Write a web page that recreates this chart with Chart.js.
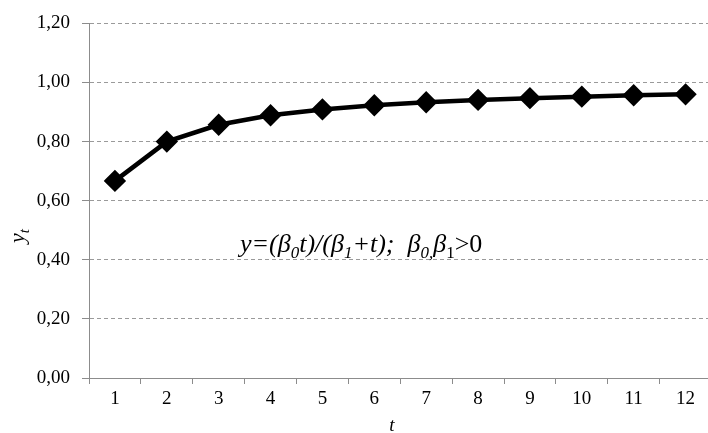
<!DOCTYPE html>
<html>
<head>
<meta charset="utf-8">
<script src="https://cdn.jsdelivr.net/npm/chart.js@4"></script>
<style>
  html, body { margin: 0; padding: 0; background: #fff; overflow: hidden; }
  #wrap { width: 724px; height: 433px; }
</style>
</head>
<body>
<div id="wrap"><canvas id="c" width="724" height="433"></canvas></div>
<script>
// Time index and fitted response values
const tLabels = ['1','2','3','4','5','6','7','8','9','10','11','12'];
const yValues = [0.667, 0.800, 0.857, 0.889, 0.909, 0.923, 0.933, 0.941, 0.947, 0.952, 0.957, 0.960];
const yTicks = [0, 0.2, 0.4, 0.6, 0.8, 1.0, 1.2];

const SERIF = '"Liberation Serif", "Times New Roman", serif';
const AXIS_GREY = '#8c8c8c';

// Axis titles and the model formula drawn as text runs with subscripts
const textPlugin = {
  id: 'formulaText',
  afterDraw(chart) {
    const ctx = chart.ctx;
    ctx.save();
    ctx.fillStyle = '#000';
    ctx.textBaseline = 'alphabetic';

    // y axis title: y with subscript t, rotated
    ctx.save();
    ctx.translate(24, 236);
    ctx.rotate(-Math.PI / 2);
    ctx.textAlign = 'left';
    ctx.font = 'italic 22px ' + SERIF;
    const yw = ctx.measureText('y').width;
    ctx.font = 'italic 15px ' + SERIF;
    const tw0 = ctx.measureText('t').width;
    const start = -(yw + tw0) / 2;
    ctx.font = 'italic 22px ' + SERIF;
    ctx.fillText('y', start, 0);
    ctx.font = 'italic 15px ' + SERIF;
    ctx.fillText('t', start + yw, 5);
    ctx.restore();

    // x axis title
    ctx.font = 'italic 19px ' + SERIF;
    ctx.textAlign = 'center';
    ctx.fillText('t', 392, 431);

    // model formula
    const runs = [
      ['y=(β', false, true],
      ['0', true, true],
      ['t)/(β', false, true],
      ['1', true, true],
      ['+t);  β', false, true],
      ['0,', true, true],
      ['β', false, true],
      ['1', true, false],
      ['>0', false, false]
    ];
    ctx.textAlign = 'left';
    let x = 240;
    const base = 252;
    for (const [txt, sub, ital] of runs) {
      const size = sub ? 17 : 26;
      ctx.font = (ital ? 'italic ' : '') + size + 'px ' + SERIF;
      ctx.fillText(txt, x, sub ? base + 6 : base);
      x += ctx.measureText(txt).width;
    }
    ctx.restore();
  }
};

new Chart(document.getElementById('c'), {
  type: 'line',
  data: {
    labels: tLabels,
    datasets: [{
      data: yValues,
      borderColor: '#000',
      backgroundColor: '#000',
      borderWidth: 4.5,
      pointStyle: 'rectRot',
      pointRadius: 8,
      pointHoverRadius: 8,
      pointBackgroundColor: '#000',
      pointBorderColor: '#000',
      tension: 0,
      fill: false
    }]
  },
  options: {
    responsive: false,
    animation: false,
    events: [],
    layout: { padding: { top: 19, right: 3, bottom: 0, left: 0 } },
    plugins: { legend: { display: false }, tooltip: { enabled: false } },
    scales: {
      x: {
        type: 'category',
        offset: true,
        grid: {
          offset: true,
          drawOnChartArea: false,
          drawTicks: true,
          tickLength: 6,
          color: AXIS_GREY,
          lineWidth: 1
        },
        border: { display: true, color: AXIS_GREY, width: 1 },
        ticks: {
          color: '#000',
          font: { family: SERIF, size: 19 },
          padding: 4,
          maxRotation: 0,
          autoSkip: false
        },
        afterFit(scale) { scale.height = 55; }
      },
      y: {
        min: 0,
        max: 1.2,
        afterBuildTicks(scale) { scale.ticks = yTicks.map(v => ({ value: v })); },
        grid: {
          color: '#9a9a9a',
          lineWidth: 1,
          tickLength: 7,
          tickColor: AXIS_GREY,
          drawTicks: true
        },
        border: { display: true, color: AXIS_GREY, width: 1, dash: [4, 3] },
        ticks: {
          color: '#000',
          font: { family: SERIF, size: 19 },
          padding: 12,
          callback: v => Number(v).toFixed(2).replace('.', ',')
        },
        afterFit(scale) { scale.width = 89; }
      }
    }
  },
  plugins: [textPlugin]
});
</script>
</body>
</html>
